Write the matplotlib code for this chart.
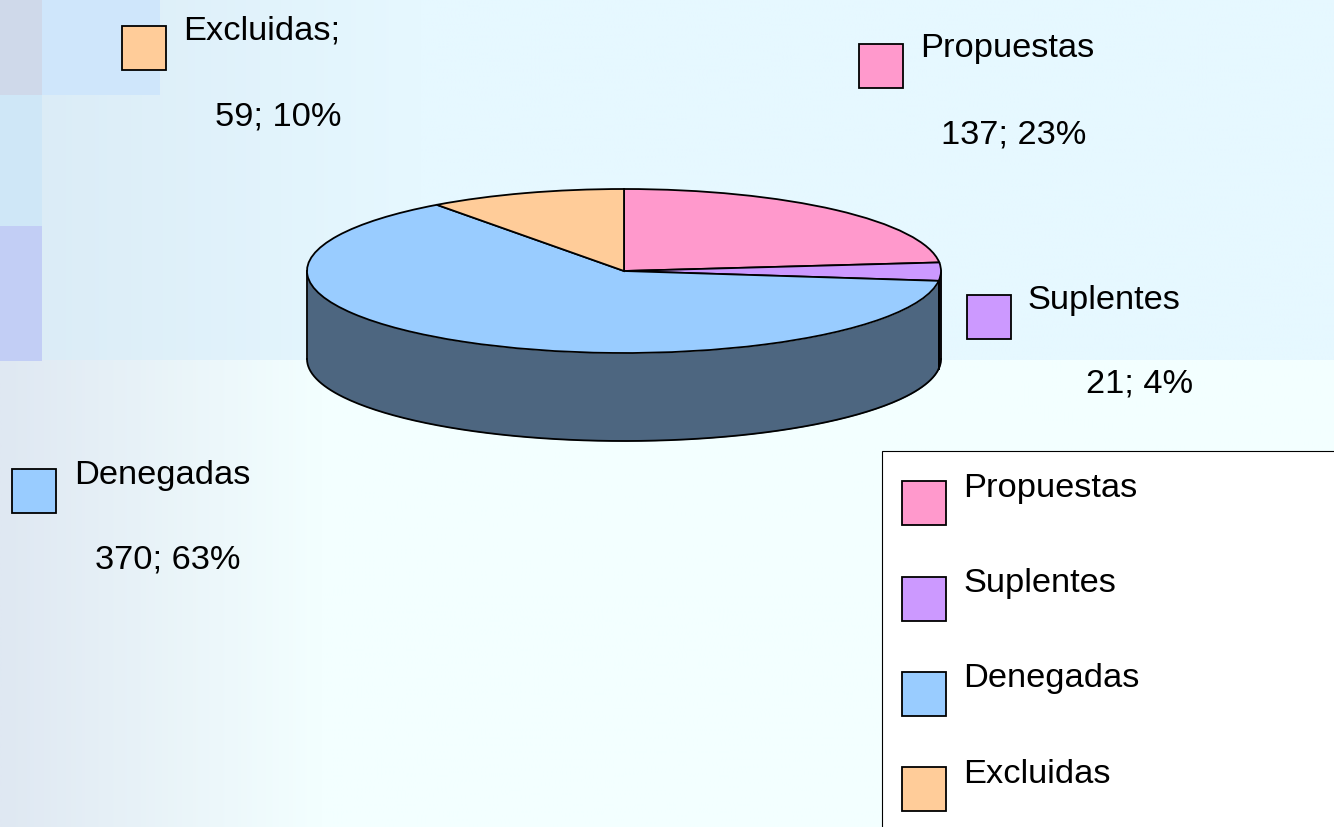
import matplotlib
matplotlib.use('Agg')
import matplotlib.pyplot as plt
import matplotlib.colors as mcolors
from matplotlib.patches import Rectangle
import numpy as np

plt.rcParams['font.family'] = ['Liberation Sans', 'DejaVu Sans']

categories = ['Propuestas', 'Suplentes', 'Denegadas', 'Excluidas']
values = [137, 21, 370, 59]
percents = [23, 4, 63, 10]
colors = ['#FF99CC', '#CC99FF', '#99CCFF', '#FFCC99']
label_names = ['Propuestas', 'Suplentes', 'Denegadas', 'Excluidas;']

W, H = 1334, 828
FS = 24.75
LW = 1.3

fig = plt.figure(figsize=(W / 100, H / 100), dpi=100)

# background, pixel coordinates
bg = fig.add_axes([0, 0, 1, 1])
bg.set_xlim(0, W)
bg.set_ylim(H, 0)
bg.axis('off')


def hgrad(y0, y1, left, right, x_end):
    c0 = np.array(mcolors.to_rgb(left))
    c1 = np.array(mcolors.to_rgb(right))
    t = np.clip(np.linspace(0, W, 334) / x_end, 0, 1)[None, :, None]
    img = c0 + (c1 - c0) * t
    bg.imshow(img, extent=[0, W, y1, y0], aspect='auto', interpolation='bilinear', zorder=0)


hgrad(0, 361, '#DAEBF6', '#E6F8FF', 420)
hgrad(361, H, '#DFE8F2', '#F3FFFF', 320)
bg.set_xlim(0, W)
bg.set_ylim(H, 0)

bg.add_patch(Rectangle((0, 0), 160, 95.5, fc='#CFE6FB', ec='none', zorder=1))
bg.add_patch(Rectangle((0, 0), 42, 95.5, fc='#CFD9EA', ec='none', zorder=2))
bg.add_patch(Rectangle((0, 95.5), 42, 131, fc='#CFE7F7', ec='none', zorder=2))
bg.add_patch(Rectangle((0, 226.5), 42, 135, fc='#C2CEF5', ec='none', zorder=2))

# pie: ellipse made by stretching the axes
cx, cy, rx, ry, depth = 624, 272, 317, 82, 88
pw, ph = rx * 2.5, ry * 2.5
ax = fig.add_axes([(cx - pw / 2) / W, 1 - (cy + ph / 2) / H, pw / W, ph / H])
ax.patch.set_alpha(0)
ax.pie(values, colors=colors, startangle=90, counterclock=False,
       wedgeprops={'edgecolor': 'black', 'linewidth': LW, 'zorder': 5})
ax.set_aspect('auto')
ax.set_xlim(-1.25, 1.25)
ax.set_ylim(-1.25, 1.25)

d = depth / ry
start = 90.0
total = sum(values)
for v, c in zip(values, colors):
    end = start - 360.0 * v / total
    # keep only the part on the front of the disc
    a0 = max(end, -180)
    a1 = min(start, 0)
    start = end
    if a1 <= a0:
        continue
    t = np.radians(np.linspace(a0, a1, 200))
    x = np.cos(t)
    y = np.sin(t)
    dark = tuple(np.array(mcolors.to_rgb(c)) * 0.5)
    ax.fill_between(x, y, y - d, color=dark, lw=0, zorder=2, clip_on=False)
    ax.plot(x, y - d, color='black', lw=LW, zorder=3, clip_on=False)
    ax.plot([x[0], x[0]], [y[0], y[0] - d], color='black', lw=LW, zorder=3, clip_on=False)
    ax.plot([x[-1], x[-1]], [y[-1], y[-1] - d], color='black', lw=LW, zorder=3, clip_on=False)

# overlay in pixel coordinates
top = fig.add_axes([0, 0, 1, 1])
top.set_xlim(0, W)
top.set_ylim(H, 0)
top.axis('off')
top.patch.set_alpha(0)

swatch_xy = [(859, 44.5), (967, 295.5), (12, 469.5), (122, 26.5)]
name_xy = [(920, 57), (1027, 309), (74, 484), (183, 40)]
value_xy = [(941, 143), (1086, 393), (95, 569), (215, 125)]

for i in range(4):
    top.add_patch(Rectangle(swatch_xy[i], 44, 44, fc=colors[i], ec='black', lw=LW))
    top.text(name_xy[i][0], name_xy[i][1], label_names[i], fontsize=FS, va='baseline', ha='left', color='black')
    top.text(value_xy[i][0], value_xy[i][1], f'{values[i]}; {percents[i]}%', fontsize=FS, va='baseline', ha='left', color='black')

# legend box runs off the page
top.add_patch(Rectangle((882, 452), 600, 500, fc='white', ec='black', lw=0.8, zorder=3))
legend_y = [481.5, 577.5, 672.5, 768.5]
legend_base = [497, 592, 687, 783]
for i in range(4):
    top.add_patch(Rectangle((902, legend_y[i]), 44, 44, fc=colors[i], ec='black', lw=LW, zorder=4))
    top.text(963, legend_base[i], categories[i], fontsize=FS, va='baseline', ha='left', color='black', zorder=4)

fig.savefig('out.png', dpi=100)
